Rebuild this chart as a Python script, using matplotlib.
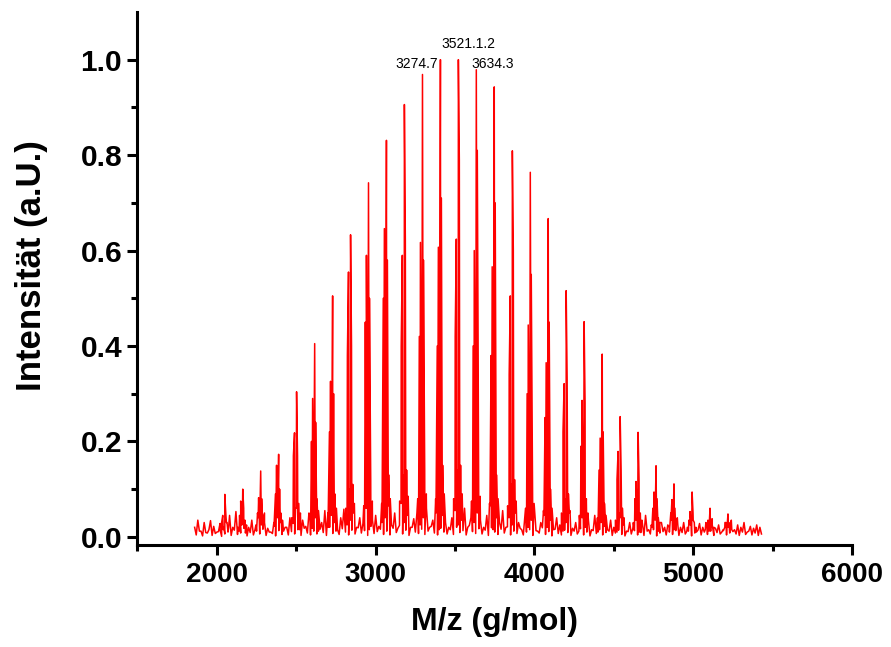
import numpy as np
import matplotlib
matplotlib.use("Agg")
import matplotlib.pyplot as plt
from matplotlib.ticker import FixedLocator

# main peak series (m/z) and relative intensities
peak_mz = [2050, 2163, 2276, 2389, 2502, 2616, 2729, 2842, 2955, 3068,
           3181, 3295, 3408, 3521, 3634, 3747, 3861, 3974, 4087, 4200,
           4313, 4427, 4540, 4653, 4766, 4879, 4993, 5106, 5219]
peak_main = [0.089, 0.10, 0.138, 0.173, 0.304, 0.405, 0.505, 0.633, 0.742, 0.831,
             0.906, 0.969, 1.0, 1.0, 0.979, 0.943, 0.809, 0.764, 0.667, 0.516,
             0.451, 0.383, 0.252, 0.219, 0.149, 0.111, 0.094, 0.06, 0.048]
peak_post = [0.05, 0.06, 0.08, 0.10, 0.17, 0.24, 0.30, 0.40, 0.50, 0.58,
             0.62, 0.58, 0.71, 0.79, 0.81, 0.70, 0.60, 0.55, 0.45, 0.33,
             0.28, 0.22, 0.14, 0.12, 0.08, 0.06, 0.05, 0.035, 0.03]
peak_shoulder = [0.045, 0.075, 0.082, 0.15, 0.218, 0.29, 0.326, 0.555, 0.59, 0.646,
                 0.59, 0.617, 0.607, 0.624, 0.60, 0.566, 0.505, 0.444, 0.365, 0.321,
                 0.286, 0.207, 0.179, 0.116, 0.094, 0.078, 0.053, 0.035, 0.03]
peak_shoulder2 = [0.03, 0.045, 0.05, 0.09, 0.17, 0.20, 0.22, 0.38, 0.45, 0.50,
                  0.40, 0.42, 0.40, 0.42, 0.40, 0.38, 0.34, 0.30, 0.25, 0.22,
                  0.19, 0.14, 0.12, 0.08, 0.06, 0.05, 0.035, 0.025, 0.02]
peak_valley = [0.02, 0.025, 0.03, 0.04, 0.06, 0.07, 0.08, 0.10, 0.11, 0.12,
               0.13, 0.13, 0.14, 0.14, 0.13, 0.12, 0.11, 0.10, 0.09, 0.08,
               0.07, 0.06, 0.05, 0.045, 0.035, 0.03, 0.025, 0.02, 0.02]
peak_tail = [0.03, 0.035, 0.04, 0.05, 0.07, 0.08, 0.09, 0.11, 0.12, 0.13,
             0.14, 0.14, 0.15, 0.15, 0.14, 0.13, 0.12, 0.11, 0.10, 0.09,
             0.08, 0.07, 0.06, 0.05, 0.04, 0.035, 0.03, 0.025, 0.02]
peak_foot_l = [0.015, 0.02, 0.025, 0.03, 0.04, 0.045, 0.05, 0.06, 0.065, 0.07,
               0.075, 0.08, 0.08, 0.08, 0.075, 0.07, 0.065, 0.06, 0.055, 0.05,
               0.045, 0.04, 0.035, 0.03, 0.025, 0.02, 0.02, 0.015, 0.015]
peak_foot_r = [0.02, 0.025, 0.03, 0.035, 0.05, 0.055, 0.06, 0.07, 0.075, 0.08,
               0.085, 0.09, 0.09, 0.09, 0.085, 0.08, 0.075, 0.07, 0.06, 0.055,
               0.05, 0.045, 0.04, 0.035, 0.03, 0.025, 0.02, 0.02, 0.015]

# baseline noise: a high value every 20 g/mol from 1860 to 5420,
# and a low value 10 g/mol after each one
noise_start = 1860
noise_step = 20
noise = [
    0.02, 0.035, 0.012, 0.03, 0.008, 0.034, 0.022, 0.01, 0.028, 0.015,
    0.03, 0.045, 0.02, 0.053, 0.012, 0.026, 0.008, 0.02, 0.035, 0.015,
    0.04, 0.025, 0.05, 0.018, 0.01, 0.022, 0.045, 0.03, 0.012, 0.02,
    0.04, 0.028, 0.06, 0.015, 0.035, 0.022, 0.05, 0.018, 0.04, 0.012,
    0.03, 0.055, 0.02, 0.045, 0.03, 0.015, 0.04, 0.058, 0.025, 0.035,
    0.05, 0.02, 0.04, 0.028, 0.06, 0.015, 0.035, 0.045, 0.022, 0.03,
    0.04, 0.065, 0.025, 0.05, 0.018, 0.07, 0.03, 0.045, 0.02, 0.038,
    0.05, 0.025, 0.04, 0.06, 0.02, 0.035, 0.05, 0.015, 0.045, 0.03,
    0.02, 0.04, 0.055, 0.025, 0.035, 0.06, 0.02, 0.04, 0.03, 0.05,
    0.035, 0.02, 0.045, 0.065, 0.015, 0.04, 0.03, 0.055, 0.02, 0.04,
    0.025, 0.05, 0.03, 0.015, 0.045, 0.02, 0.035, 0.06, 0.012, 0.03,
    0.045, 0.02, 0.035, 0.015, 0.04, 0.025, 0.012, 0.03, 0.05, 0.018,
    0.03, 0.012, 0.04, 0.02, 0.035, 0.015, 0.045, 0.01, 0.03, 0.022,
    0.015, 0.035, 0.02, 0.01, 0.04, 0.025, 0.012, 0.03, 0.018, 0.035,
    0.01, 0.028, 0.045, 0.015, 0.02, 0.04, 0.012, 0.03, 0.02, 0.025,
    0.035, 0.015, 0.04, 0.02, 0.03, 0.012, 0.025, 0.035, 0.01, 0.028,
    0.02, 0.03, 0.012, 0.038, 0.018, 0.025, 0.01, 0.03, 0.02, 0.035,
    0.015, 0.025, 0.02, 0.03, 0.01, 0.022, 0.018, 0.025, 0.02,
]
noise_low = [
    0.004, 0.012, 0.002, 0.009, 0.015, 0.003, 0.007, 0.011, 0.001, 0.006,
    0.010, 0.003, 0.014, 0.005, 0.008, 0.018, 0.002, 0.009, 0.004, 0.012,
    0.006, 0.016, 0.003, 0.010, 0.007, 0.002, 0.013, 0.005, 0.020, 0.004,
    0.011, 0.006, 0.015, 0.003, 0.018, 0.008, 0.004, 0.012, 0.006, 0.016,
    0.009, 0.003, 0.020, 0.007, 0.012, 0.005, 0.017, 0.010, 0.004, 0.014,
    0.006, 0.019, 0.008, 0.013, 0.003, 0.022, 0.007, 0.011, 0.016, 0.005,
    0.012, 0.004, 0.018, 0.009, 0.024, 0.006, 0.014, 0.003, 0.020, 0.010,
    0.007, 0.016, 0.005, 0.012, 0.022, 0.008, 0.004, 0.018, 0.010, 0.006,
    0.015, 0.005, 0.020, 0.009, 0.013, 0.004, 0.024, 0.011, 0.007, 0.017,
    0.006, 0.014, 0.003, 0.019, 0.010, 0.005, 0.016, 0.008, 0.021, 0.004,
    0.012, 0.007, 0.018, 0.004, 0.010, 0.015, 0.003, 0.013, 0.008, 0.019,
    0.005, 0.011, 0.002, 0.016, 0.007, 0.004, 0.014, 0.009, 0.003, 0.012,
    0.006, 0.017, 0.004, 0.010, 0.002, 0.013, 0.007, 0.015, 0.004, 0.009,
    0.012, 0.003, 0.008, 0.014, 0.005, 0.002, 0.011, 0.006, 0.013, 0.004,
    0.009, 0.003, 0.012, 0.006, 0.015, 0.002, 0.008, 0.011, 0.004, 0.010,
    0.005, 0.013, 0.003, 0.009, 0.006, 0.012, 0.002, 0.008, 0.014, 0.004,
    0.010, 0.005, 0.012, 0.003, 0.009, 0.006, 0.013, 0.004, 0.008, 0.011,
    0.006, 0.003, 0.010, 0.005, 0.012, 0.004, 0.008, 0.003, 0.006,
]

labels = [("3274.7", 3256, 0.99), ("3521.1.2", 3587, 1.033), ("3634.3", 3736, 0.99)]

plt.rcParams['font.family'] = ['Liberation Sans', 'DejaVu Sans']


def build_spectrum():
    xs, ys = [], []
    for i, v in enumerate(noise):
        x = noise_start + i * noise_step
        xs += [x, x + 10]
        ys += [v, noise_low[i]]
    for i, m in enumerate(peak_mz):
        xs += [m - 30, m - 20, m - 13, m - 6, m, m + 6, m + 14, m + 24]
        ys += [peak_foot_l[i], peak_shoulder2[i], peak_shoulder[i], peak_valley[i],
               peak_main[i], peak_post[i], peak_tail[i], peak_foot_r[i]]
    order = np.argsort(xs, kind="stable")
    return np.array(xs)[order], np.array(ys)[order]


def main():
    fig = plt.figure(figsize=(8.91, 6.47), dpi=100)
    ax = fig.add_axes([0.1543, 0.1577, 0.8019, 0.8238])

    x, y = build_spectrum()
    ax.plot(x, y, color="#ff0000", lw=1.1)

    for txt, xm, ym in labels:
        ax.text(xm, ym, txt, ha="center", va="center", fontsize=10)

    ax.set_xlim(1500, 6000)
    ax.set_ylim(-0.017, 1.1)
    ax.xaxis.set_major_locator(FixedLocator([2000, 3000, 4000, 5000, 6000]))
    ax.xaxis.set_minor_locator(FixedLocator([1500, 2500, 3500, 4500, 5500]))
    ax.yaxis.set_major_locator(FixedLocator([0.0, 0.2, 0.4, 0.6, 0.8, 1.0]))
    ax.yaxis.set_minor_locator(FixedLocator([0.1, 0.3, 0.5, 0.7, 0.9]))
    ax.yaxis.set_major_formatter(plt.FuncFormatter(lambda v, p: f"{v:.1f}"))

    for s in ["top", "right"]:
        ax.spines[s].set_visible(False)
    for s in ["left", "bottom"]:
        ax.spines[s].set_linewidth(2.2)

    ax.tick_params(which="major", direction="out", length=7, width=2.2, pad=5)
    ax.tick_params(which="minor", direction="out", length=4.5, width=2.2)
    ax.tick_params(axis="x", which="major", labelsize=20)
    ax.tick_params(axis="y", which="major", labelsize=21.5, pad=4)
    for lab in ax.get_xticklabels() + ax.get_yticklabels():
        lab.set_fontweight("bold")

    ax.set_xlabel("M/z (g/mol)", fontsize=23, fontweight="bold", labelpad=14)
    ax.set_ylabel("Intensität (a.U.)", fontsize=25, fontweight="bold")
    ax.yaxis.set_label_coords(-0.125, 0.525)

    fig.savefig("out.png", dpi=100)


if __name__ == "__main__":
    main()
